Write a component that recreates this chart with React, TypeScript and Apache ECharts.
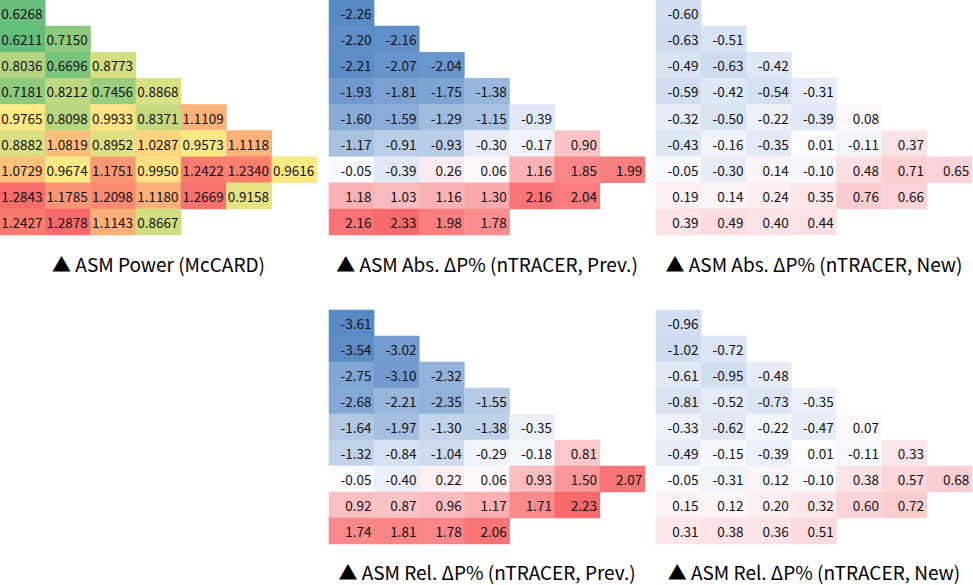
import React, { useEffect, useRef } from "react";
import * as echarts from "echarts";

// ---------- data (rows top to bottom, columns left to right) ----------
const colCategories = ["1", "2", "3", "4", "5", "6", "7"];
const rowCategories = ["1", "2", "3", "4", "5", "6", "7", "8", "9"];

const asmPowerMcCARD: number[][] = [
  [0.6268],
  [0.6211, 0.715],
  [0.8036, 0.6696, 0.8773],
  [0.7181, 0.8212, 0.7456, 0.8868],
  [0.9765, 0.8098, 0.9933, 0.8371, 1.1109],
  [0.8882, 1.0819, 0.8952, 1.0287, 0.9573, 1.1118],
  [1.0729, 0.9674, 1.1751, 0.995, 1.2422, 1.234, 0.9616],
  [1.2843, 1.1785, 1.2098, 1.118, 1.2669, 0.9158],
  [1.2427, 1.2878, 1.1143, 0.8667],
];

const absPrev: number[][] = [
  [-2.26],
  [-2.2, -2.16],
  [-2.21, -2.07, -2.04],
  [-1.93, -1.81, -1.75, -1.38],
  [-1.6, -1.59, -1.29, -1.15, -0.39],
  [-1.17, -0.91, -0.93, -0.3, -0.17, 0.9],
  [-0.05, -0.39, 0.26, 0.06, 1.16, 1.85, 1.99],
  [1.18, 1.03, 1.16, 1.3, 2.16, 2.04],
  [2.16, 2.33, 1.98, 1.78],
];

const absNew: number[][] = [
  [-0.6],
  [-0.63, -0.51],
  [-0.49, -0.63, -0.42],
  [-0.59, -0.42, -0.54, -0.31],
  [-0.32, -0.5, -0.22, -0.39, 0.08],
  [-0.43, -0.16, -0.35, 0.01, -0.11, 0.37],
  [-0.05, -0.3, 0.14, -0.1, 0.48, 0.71, 0.65],
  [0.19, 0.14, 0.24, 0.35, 0.76, 0.66],
  [0.39, 0.49, 0.4, 0.44],
];

const relPrev: number[][] = [
  [-3.61],
  [-3.54, -3.02],
  [-2.75, -3.1, -2.32],
  [-2.68, -2.21, -2.35, -1.55],
  [-1.64, -1.97, -1.3, -1.38, -0.35],
  [-1.32, -0.84, -1.04, -0.29, -0.18, 0.81],
  [-0.05, -0.4, 0.22, 0.06, 0.93, 1.5, 2.07],
  [0.92, 0.87, 0.96, 1.17, 1.71, 2.23],
  [1.74, 1.81, 1.78, 2.06],
];

const relNew: number[][] = [
  [-0.96],
  [-1.02, -0.72],
  [-0.61, -0.95, -0.48],
  [-0.81, -0.52, -0.73, -0.35],
  [-0.33, -0.62, -0.22, -0.47, 0.07],
  [-0.49, -0.15, -0.39, 0.01, -0.11, 0.33],
  [-0.05, -0.31, 0.12, -0.1, 0.38, 0.57, 0.68],
  [0.15, 0.12, 0.2, 0.32, 0.6, 0.72],
  [0.31, 0.38, 0.36, 0.51],
];

const titles = [
  "▲ ASM Power (McCARD)",
  "▲ ASM Abs. ΔP% (nTRACER, Prev.)",
  "▲ ASM Abs. ΔP% (nTRACER, New)",
  "▲ ASM Rel. ΔP% (nTRACER, Prev.)",
  "▲ ASM Rel. ΔP% (nTRACER, New)",
];

// ---------- helpers ----------
const toCells = (rows: number[][]) =>
  rows.flatMap((r, ri) => r.map((v, ci) => [ci, ri, v]));

const flat = (rows: number[][]) => rows.flat();

const median = (arr: number[]) => {
  const s = [...arr].sort((a, b) => a - b);
  const m = Math.floor(s.length / 2);
  return s.length % 2 ? s[m] : (s[m - 1] + s[m]) / 2;
};

// three-colour scale (Excel style) expressed as evenly spaced stops for visualMap
const threeColorStops = (
  min: number,
  mid: number,
  max: number,
  lo: string,
  md: string,
  hi: string,
  n = 61
) => {
  const out: string[] = [];
  for (let i = 0; i < n; i++) {
    const v = min + ((max - min) * i) / (n - 1);
    if (v <= mid) {
      const t = (v - min) / (mid - min);
      out.push(echarts.color.lerp(t, [lo, md]) as string);
    } else {
      const t = (v - mid) / (max - mid);
      out.push(echarts.color.lerp(t, [md, hi]) as string);
    }
  }
  return out;
};

const FONT = "'Noto Sans CJK KR', 'Noto Sans', sans-serif";

export default function App() {
  const ref = useRef<HTMLDivElement>(null);

  useEffect(() => {
    if (!ref.current) return;
    const chart = echarts.init(ref.current, null, { renderer: "svg" });

    const panels = [asmPowerMcCARD, absPrev, absNew, relPrev, relNew];
    const grids = [
      { left: 0, top: 0, width: 317, height: 235 },
      { left: 329, top: 0, width: 316, height: 235 },
      { left: 656, top: 0, width: 316, height: 235 },
      { left: 329, top: 310, width: 316, height: 234 },
      { left: 656, top: 310, width: 316, height: 234 },
    ];
    const titleTops = [252, 252, 252, 560, 560];

    const p1 = flat(asmPowerMcCARD);
    const abs = [...flat(absPrev), ...flat(absNew)];
    const rel = [...flat(relPrev), ...flat(relNew)];
    const p1min = Math.min(...p1), p1max = Math.max(...p1);
    const absMin = Math.min(...abs), absMax = Math.max(...abs);
    const relMin = Math.min(...rel), relMax = Math.max(...rel);

    const option: any = {
      animation: false,
      backgroundColor: "#ffffff",
      textStyle: { fontFamily: FONT },
      title: titles.map((t, i) => ({
        text: t,
        left: grids[i].left + grids[i].width / 2,
        top: titleTops[i],
        textAlign: "center",
        padding: 0,
        textStyle: {
          fontFamily: FONT,
          fontSize: 19,
          lineHeight: 22,
          fontWeight: "normal",
          color: "#000",
        },
      })),
      grid: grids,
      xAxis: grids.map((_, i) => ({
        type: "category",
        gridIndex: i,
        data: colCategories,
        show: false,
      })),
      yAxis: grids.map((_, i) => ({
        type: "category",
        gridIndex: i,
        data: rowCategories,
        inverse: true,
        show: false,
      })),
      visualMap: [
        {
          type: "continuous",
          show: false,
          seriesIndex: 0,
          dimension: 2,
          min: p1min,
          max: p1max,
          inRange: {
            color: threeColorStops(p1min, median(p1), p1max, "#63BE7B", "#FFEB84", "#F8696B"),
          },
        },
        {
          type: "continuous",
          show: false,
          seriesIndex: [1, 2],
          dimension: 2,
          min: absMin,
          max: absMax,
          inRange: {
            color: threeColorStops(absMin, 0, absMax, "#5A8AC6", "#FCFCFF", "#F8696B"),
          },
        },
        {
          type: "continuous",
          show: false,
          seriesIndex: [3, 4],
          dimension: 2,
          min: relMin,
          max: relMax,
          inRange: {
            color: threeColorStops(relMin, 0, relMax, "#5A8AC6", "#FCFCFF", "#F8696B"),
          },
        },
      ],
      series: panels.map((rows, i) => ({
        type: "heatmap",
        xAxisIndex: i,
        yAxisIndex: i,
        data: toCells(rows),
        itemStyle: { borderWidth: 0 },
        emphasis: { disabled: true },
        label: {
          show: true,
          position: "insideRight",
          distance: 3,
          fontFamily: FONT,
          fontSize: 13.5,
          color: "#111",
          formatter: (p: any) => (p.value[2] as number).toFixed(i === 0 ? 4 : 2),
        },
      })),
    };

    chart.setOption(option);
    return () => chart.dispose();
  }, []);

  return (
    <div
      ref={ref}
      style={{ position: "absolute", left: 0, top: 0, width: 973, height: 585 }}
    />
  );
}
